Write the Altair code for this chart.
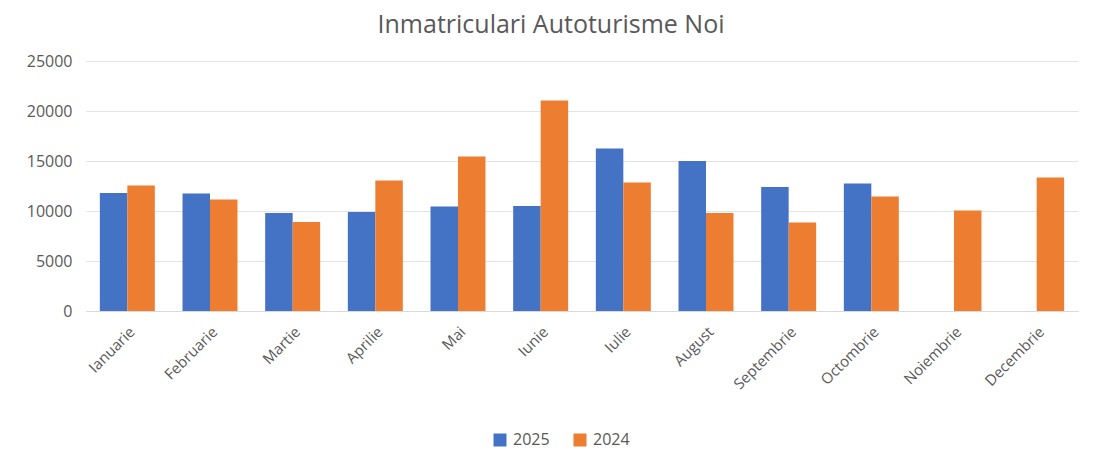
import altair as alt
import pandas as pd

months = ["Ianuarie", "Februarie", "Martie", "Aprilie", "Mai", "Iunie", "Iulie",
          "August", "Septembrie", "Octombrie", "Noiembrie", "Decembrie"]
v2025 = [11800, 11750, 9800, 9900, 10450, 10500, 16250, 15000, 12400, 12750, None, None]
v2024 = [12550, 11150, 8900, 13050, 15450, 21050, 12850, 9800, 8850, 11450, 10050, 13350]
series = ["2025", "2024"]
colors = ["#4472C4", "#ED7D31"]
yticks = [0, 5000, 10000, 15000, 20000, 25000]

rows = []
for m, a, b in zip(months, v2025, v2024):
    if a is not None:
        rows.append({"Luna": m, "An": "2025", "Valoare": a})
    if b is not None:
        rows.append({"Luna": m, "An": "2024", "Valoare": b})
df = pd.DataFrame(rows)

FONT = "Open Sans"
GRAY = "#595959"

chart = alt.Chart(df).mark_bar().encode(
    x=alt.X("Luna:N", sort=months,
            scale=alt.Scale(paddingInner=0.335, paddingOuter=0.1675),
            axis=alt.Axis(title=None, labelAngle=-45, labelColor=GRAY,
                          labelFontSize=15, labelFont=FONT, ticks=False,
                          domainColor="#d9d9d9", labelPadding=13)),
    xOffset=alt.XOffset("An:N", sort=series),
    y=alt.Y("Valoare:Q", scale=alt.Scale(domain=[0, 25000]),
            axis=alt.Axis(title=None, values=yticks,
                          format="d", labelColor=GRAY, labelFontSize=16,
                          labelFont=FONT, domain=False, ticks=False,
                          gridColor="#e3e3e3", labelPadding=14)),
    color=alt.Color("An:N", sort=series,
                    scale=alt.Scale(domain=series, range=colors),
                    legend=alt.Legend(title=None, orient="none", legendX=406, legendY=371,
                                      direction="horizontal",
                                      symbolType="square", symbolSize=169,
                                      symbolStrokeWidth=0,
                                      labelColor=GRAY, labelFontSize=16,
                                      labelFont=FONT, columnPadding=22,
                                      labelOffset=5)),
).properties(
    width=992, height=250,
    padding={"left": 78, "top": 53, "right": 8, "bottom": 150},
    autosize=alt.AutoSizeParams(type="none"),
    background="white",
    title=alt.Title("Inmatriculari Autoturisme Noi", fontSize=25, font=FONT,
                    fontWeight="normal", color=GRAY, anchor="middle", offset=15, dx=-31),
).configure_view(strokeWidth=0, stroke="transparent")

chart.save("out.html", embed_options={"renderer": "svg", "actions": False})
